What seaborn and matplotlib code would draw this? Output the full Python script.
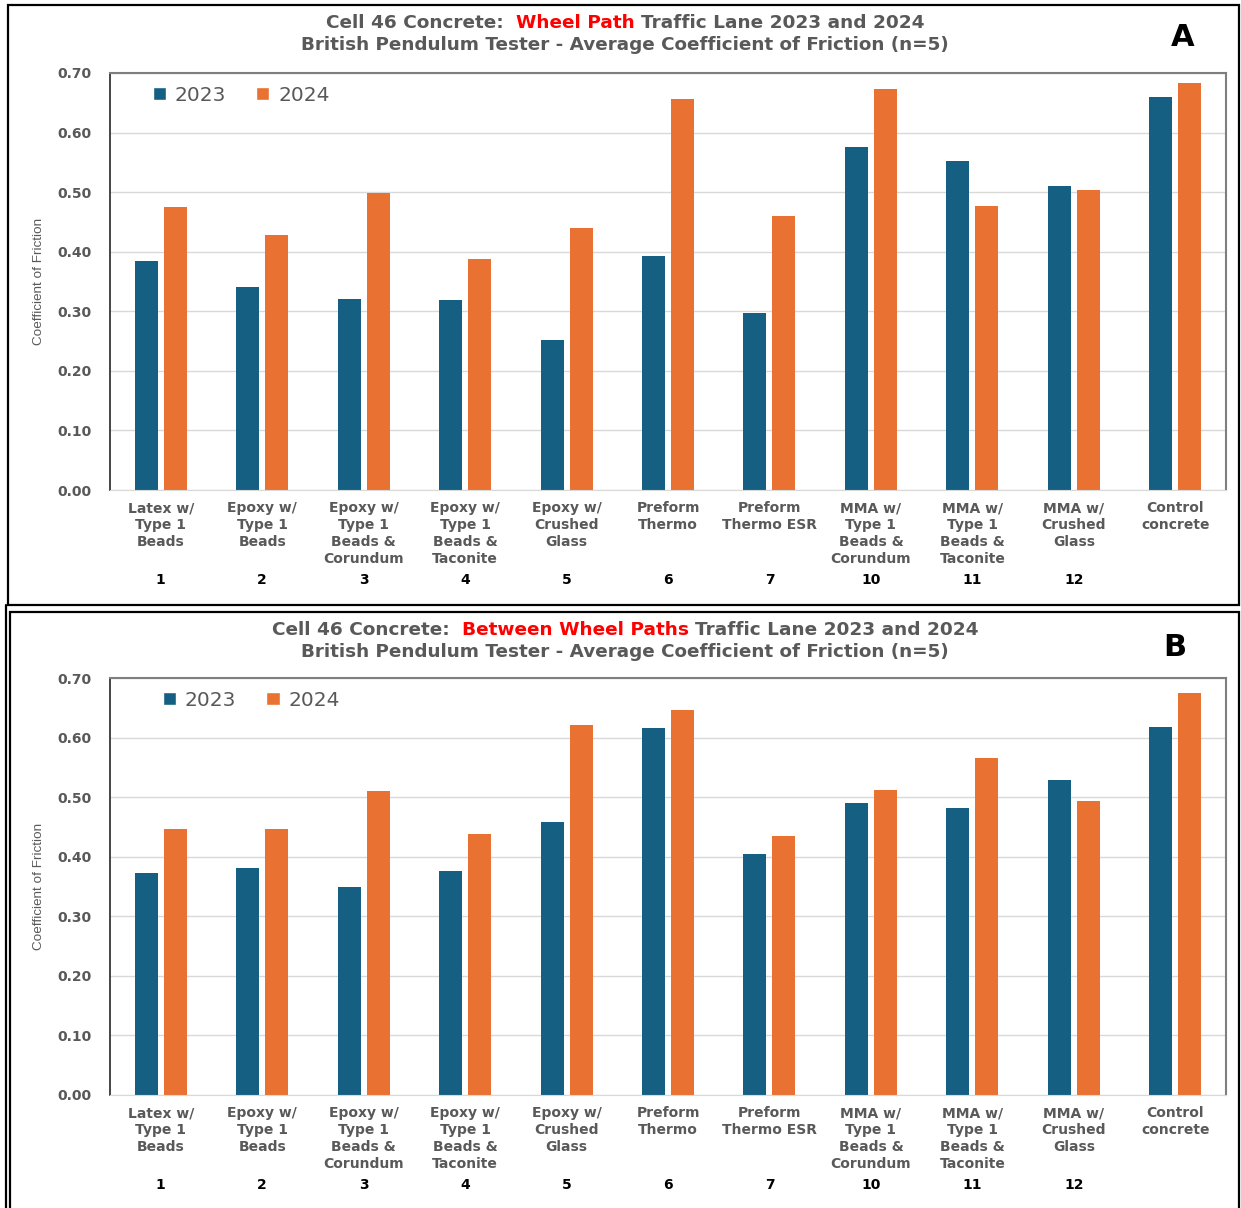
import numpy as np
import pandas as pd
import matplotlib
matplotlib.use("Agg")
import matplotlib.pyplot as plt
from matplotlib.patches import Patch, Rectangle
from matplotlib.lines import Line2D
from matplotlib.offsetbox import TextArea, HPacker, DrawingArea, AnnotationBbox
import seaborn as sns

sns.set_style("white")
plt.rcParams['font.family'] = ['DejaVu Sans']

labels = ["Latex w/\nType 1\nBeads", "Epoxy w/\nType 1\nBeads", "Epoxy w/\nType 1\nBeads &\nCorundum",
          "Epoxy w/\nType 1\nBeads &\nTaconite", "Epoxy w/\nCrushed\nGlass", "Preform\nThermo",
          "Preform\nThermo ESR", "MMA w/\nType 1\nBeads &\nCorundum", "MMA w/\nType 1\nBeads &\nTaconite",
          "MMA w/\nCrushed\nGlass", "Control\nconcrete"]
numbers = ["1", "2", "3", "4", "5", "6", "7", "10", "11", "12", ""]
years = ["2023", "2024"]

wheel_2023 = [0.384, 0.341, 0.321, 0.319, 0.252, 0.393, 0.297, 0.576, 0.552, 0.510, 0.660]
wheel_2024 = [0.475, 0.428, 0.499, 0.388, 0.440, 0.656, 0.460, 0.673, 0.477, 0.504, 0.683]
between_2023 = [0.373, 0.381, 0.349, 0.376, 0.458, 0.616, 0.405, 0.490, 0.482, 0.529, 0.618]
between_2024 = [0.447, 0.447, 0.510, 0.438, 0.621, 0.646, 0.435, 0.512, 0.566, 0.494, 0.675]

yticks = [0.0, 0.1, 0.2, 0.3, 0.4, 0.5, 0.6, 0.7]

c2023 = "#156082"
c2024 = "#E97132"
gray = "#595959"

W, H = 1241, 1208
fig = plt.figure(figsize=(W / 100, H / 100), dpi=100)


def make_df(v23, v24):
    return pd.DataFrame({
        'label': labels * 2,
        'year': [years[0]] * len(labels) + [years[1]] * len(labels),
        'cof': list(v23) + list(v24),
    })


def title(y_px, red_part, rest):
    fs = 13.3
    parts = [TextArea("Cell 46 Concrete:", textprops=dict(color=gray, fontsize=fs, fontweight='bold')),
             DrawingArea(9, 1),
             TextArea(red_part, textprops=dict(color="#FF0000", fontsize=fs, fontweight='bold')),
             DrawingArea(4, 1),
             TextArea(rest, textprops=dict(color=gray, fontsize=fs, fontweight='bold'))]
    box = HPacker(children=parts, sep=0, pad=0, align='baseline')
    ab = AnnotationBbox(box, (625 / W, 1 - y_px / H), xycoords='figure fraction',
                        box_alignment=(0.5, 0.5), frameon=False, pad=0)
    fig.add_artist(ab)
    fig.text(625 / W, 1 - (y_px + 22) / H, "British Pendulum Tester - Average Coefficient of Friction (n=5)",
             ha='center', va='center', color=gray, fontsize=13.2, fontweight='bold')


def panel(top_px, v23, v24, letter, letter_xy, leg_x):
    ax = fig.add_axes([110 / W, 1 - (top_px + 417) / H, 1116 / W, 417 / H])
    df = make_df(v23, v24)
    sns.barplot(data=df, x='label', y='cof', hue='year', order=labels, hue_order=years,
                palette=[c2023, c2024], saturation=1, width=0.572, gap=0.207, linewidth=0,
                legend=False, ax=ax)
    ax.set_xlim(-0.5, len(labels) - 0.5)
    ax.set_ylim(0, 0.7)
    ax.set_yticks(yticks)
    ax.set_yticklabels([f"{t:.2f}" for t in yticks], fontweight='bold', color=gray, fontsize=10)
    ax.set_xticks(range(len(labels)))
    ax.set_xticklabels(labels, fontweight='bold', color=gray, fontsize=10, linespacing=1.27)
    ax.tick_params(axis='y', length=0, pad=13)
    ax.tick_params(axis='x', length=0, pad=8)
    ax.set_xlabel("")
    ax.set_ylabel("Coefficient of Friction", color=gray, fontsize=9.7,
                  family=['Liberation Sans', 'DejaVu Sans'], labelpad=9)
    ax.yaxis.grid(True, color="#D9D9D9", linewidth=1)
    ax.set_axisbelow(True)
    ax.spines['left'].set_color("#262626")
    ax.spines['left'].set_linewidth(1.2)
    ax.spines['bottom'].set_color("#D9D9D9")
    for s in ['top', 'right']:
        ax.spines[s].set_color("#7F7F7F")
        ax.spines[s].set_linewidth(1.5)
    for i, n in enumerate(numbers):
        ax.text(i, -0.151, n, ha='center', va='center', fontweight='bold', fontsize=10,
                color='black', clip_on=False)
    handles = [Patch(facecolor=c2023), Patch(facecolor=c2024)]
    ax.legend(handles, years, loc='center left', bbox_to_anchor=(leg_x, 0.947), ncol=2, frameon=False,
              fontsize=14.5, handlelength=0.65, handleheight=0.65, handletextpad=0.45,
              columnspacing=1.5, labelcolor=gray, borderaxespad=0)
    fig.text(letter_xy[0] / W, 1 - letter_xy[1] / H, letter, ha='center', va='center',
             fontsize=22, fontweight='bold', color='black')
    return ax


title(23, "Wheel Path", "Traffic Lane 2023 and 2024")
panel(73, wheel_2023, wheel_2024, "A", (1183, 38), 0.031)
title(630, "Between Wheel Paths", "Traffic Lane 2023 and 2024")
panel(678, between_2023, between_2024, "B", (1175, 647), 0.040)

# panel frames
fig.add_artist(Rectangle((8 / W, 1 - 605 / H), 1231 / W, 600 / H, transform=fig.transFigure,
                         fill=False, edgecolor='black', linewidth=1.6))
fig.add_artist(Rectangle((10 / W, 1 - 1215 / H), 1229 / W, 603 / H, transform=fig.transFigure,
                         fill=False, edgecolor='black', linewidth=1.6))
fig.add_artist(Line2D([6 / W, 6 / W], [0, 1 - 605 / H], transform=fig.transFigure,
                      color='black', linewidth=1.6))

fig.savefig("out.png", dpi=100)
